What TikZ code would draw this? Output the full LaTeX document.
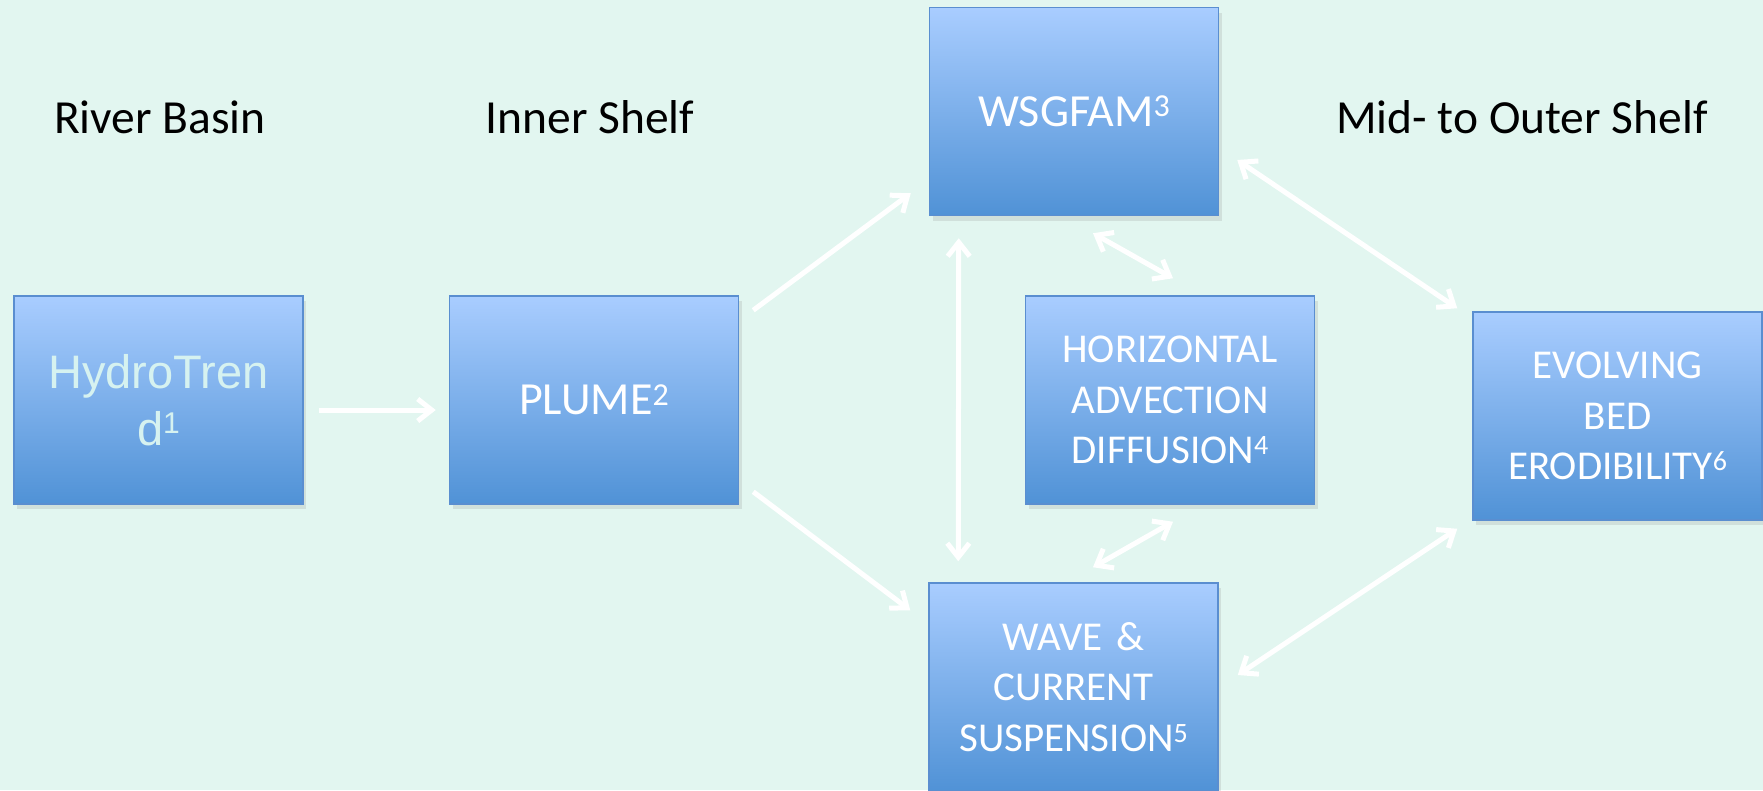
\documentclass[tikz,border=0pt]{standalone}
\usepackage{fontspec}
\setmainfont{Carlito}
\newfontfamily\arialfont{Liberation Sans}
\usetikzlibrary{arrows.meta,shadows,calc}
\definecolor{bgcol}{RGB}{226,246,240}
\definecolor{boxtop}{RGB}{169,205,255}
\definecolor{boxbot}{RGB}{80,146,214}
\definecolor{boxline}{RGB}{90,142,208}
\definecolor{hydrotext}{RGB}{214,242,240}
\newcommand\mysup[3]{\raisebox{#3pt}{\fontsize{#1}{#1}\selectfont #2}}
\tikzset{
  modelbox/.style={rectangle, draw=boxline, line width=1.5pt,
    top color=boxtop, bottom color=boxbot,
    minimum width=289pt, minimum height=208pt, inner sep=0pt,
    text=white, align=center, text width=280pt,
    drop shadow={shadow xshift=3pt, shadow yshift=-5pt, opacity=0.18}},
  bigtxt/.style={font=\fontsize{46}{55}\selectfont},
  smalltxt/.style={font=\fontsize{41}{50.5}\selectfont},
  header/.style={font=\fontsize{47.5}{56}\selectfont, text=black},
  barb/.tip={Straight Barb[length=14pt,width=22pt,line width=5pt]},
  flow/.style={draw=white, line width=5pt, -barb},
  twoway/.style={draw=white, line width=5pt, barb-barb}
}
\begin{document}
\begin{tikzpicture}[x=1pt,y=-1pt]
\fill[bgcol] (0,0) rectangle (1763,790);
\useasboundingbox (0,0) rectangle (1763,790);

\node[header] (rb) at (160,117) {River Basin};
\node[header] (is) at (590,117) {Inner Shelf};
\node[header] (mo) at (1522,117) {Mid- to Outer Shelf};

\node[modelbox, text=hydrotext, font=\arialfont\fontsize{47}{57}\selectfont] (hydro) at (158.5,400) {HydroTren\\d\mysup{30}{1}{12}};
\node[modelbox, bigtxt] (plume) at (594,400) {PLUME\mysup{32}{2}{9.5}};
\node[modelbox, bigtxt] (wsg) at (1074,111.5) {WSGFAM\mysup{32}{3}{9.5}};
\node[modelbox, smalltxt] (horiz) at (1170,400) {HORIZONTAL\\ADVECTION\\DIFFUSION\mysup{28}{4}{9}};
\node[modelbox, smalltxt] (evol) at (1617.5,416) {EVOLVING\\BED\\ERODIBILITY\mysup{28}{6}{9}};
\node[modelbox, smalltxt] (wave) at (1073.5,687) {WAVE \&\\CURRENT\\SUSPENSION\mysup{28}{5}{9}};

\draw[flow] ($(hydro.east)+(15,10)$) -- ($(plume.west)+(-13,10)$);
\draw[flow] ($(plume.north east)+(14,15)$) -- ($(wsg.south west)+(-18,-23)$);
\draw[flow] ($(plume.south east)+(14,-13)$) -- ($(wave.north west)+(-18,28)$);
\draw[twoway] ($(wsg.south west)+(30,22)$) -- ($(wave.north west)+(30,-21)$);
\draw[twoway] ($(wsg.south)+(19,17)$) -- ($(horiz.north)+(3,-17)$);
\draw[twoway] ($(horiz.south)+(3,17)$) -- ($(wave.north)+(19.5,-15)$);
\draw[twoway] ($(wsg.east)+(18,48.5)$) -- ($(evol.north west)+(-15,-3)$);
\draw[twoway] ($(wave.east)+(19,-12)$) -- ($(evol.south west)+(-15,8)$);
\end{tikzpicture}
\end{document}
